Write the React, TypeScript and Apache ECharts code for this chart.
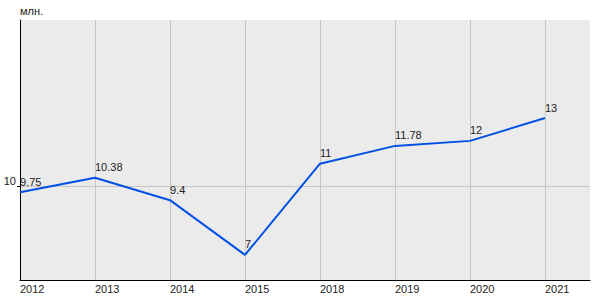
import React, { useEffect, useRef } from "react";
import * as echarts from "echarts";

const years = ["2012", "2013", "2014", "2015", "2018", "2019", "2020", "2021"];
const values = [9.75, 10.38, 9.4, 7, 11, 11.78, 12, 13];
const yTicks = [10];
const unitLabel = "млн.";

const FONT = "'Liberation Sans', Arial, sans-serif";

export default function App() {
  const ref = useRef<HTMLDivElement>(null);
  useEffect(() => {
    document.body.style.margin = "0";
    const chart = echarts.init(ref.current!, null, { renderer: "svg" });
    chart.setOption({
      animation: false,
      grid: {
        left: 20,
        top: 20,
        right: 10,
        bottom: 20,
        show: true,
        backgroundColor: "#EBEBEB",
        borderWidth: 0,
      },
      xAxis: {
        type: "value",
        min: 0,
        max: 7.6,
        interval: 1,
        axisLine: { show: true, lineStyle: { color: "#000", width: 1 } },
        axisTick: { show: false },
        axisLabel: {
          show: true,
          align: "left",
          margin: 3,
          color: "#222",
          fontSize: 11,
          fontFamily: FONT,
          showMaxLabel: false,
          formatter: (v: number) =>
            Number.isInteger(v) && years[v] !== undefined ? years[v] : "",
        },
        splitLine: {
          show: true,
          showMaxLine: false,
          lineStyle: { color: "#C6C6C6", width: 1 },
        },
      },
      yAxis: {
        type: "value",
        min: 5.9,
        max: 17.3,
        name: unitLabel,
        nameLocation: "end",
        nameGap: 4,
        nameTextStyle: {
          align: "left",
          color: "#222",
          fontSize: 11,
          fontFamily: FONT,
        },
        axisLine: { show: true, onZero: false, lineStyle: { color: "#000", width: 1 } },
        axisTick: { show: true, customValues: yTicks, length: 3, lineStyle: { color: "#000" } },
        axisLabel: {
          show: true,
          customValues: yTicks,
          margin: 4,
          color: "#222",
          fontSize: 11,
          fontFamily: FONT,
          verticalAlign: "bottom",
        },
        splitLine: { show: true, lineStyle: { color: "#C6C6C6", width: 1 } },
      },
      series: [
        {
          type: "line",
          data: values.map((v, i) => [i, v]),
          showSymbol: true,
          showAllSymbol: true,
          symbol: "circle",
          symbolSize: 2,
          itemStyle: { color: "rgba(0,0,0,0)", borderWidth: 0 },
          lineStyle: { color: "#0050E6", width: 2 },
          label: {
            show: true,
            position: "top",
            align: "left",
            distance: 4,
            color: "#222",
            fontSize: 11,
            fontFamily: FONT,
            formatter: (p: any) => String(p.value[1]),
          },
        },
      ],
    });
    return () => chart.dispose();
  }, []);
  return <div ref={ref} style={{ width: 600, height: 300 }} />;
}
